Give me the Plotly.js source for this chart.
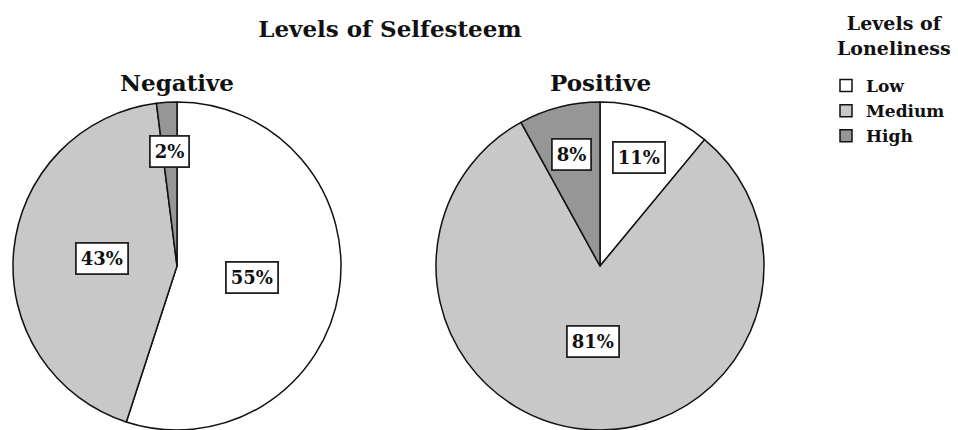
<!DOCTYPE html>
<html>
<head>
<meta charset="utf-8">
<script src="https://cdn.plot.ly/plotly-3.0.1.min.js"></script>
<style>html,body{margin:0;padding:0;background:#fff;overflow:hidden}</style>
</head>
<body>
<div id="chart" style="width:958px;height:430px"></div>
<script>
// ---- data ----
const categories = ['Low', 'Medium', 'High'];
const groups = ['Negative', 'Positive'];
const negativeValues = [55, 43, 2];
const positiveValues = [11, 81, 8];
const chartTitle = 'Levels of Selfesteem';
const legendTitle = 'Levels of<br>Loneliness';

// ---- styles ----
const W = 958, H = 430;
const FONT = 'DejaVu Serif, Liberation Serif, serif';
const sliceColors = ['#ffffff', '#c8c8c8', '#969696'];
const R = 164;                 // pie radius in px
const centers = [[177, 266], [600, 266]]; // pie centres in px
const seriesValues = [negativeValues, positiveValues];

const traces = [];
const annotations = [];
seriesValues.forEach((vals, i) => {
  const [cx, cy] = centers[i];
  const dom = {
    x: [(cx - R) / W, (cx + R) / W],
    y: [Math.max(0, 1 - (cy + R) / H), 1 - (cy - R) / H]
  };
  traces.push({
    type: 'pie',
    labels: categories,
    values: vals,
    sort: false,
    direction: 'clockwise',
    rotation: 0,
    domain: dom,
    textinfo: 'none',
    hoverinfo: 'skip',
    marker: {colors: sliceColors, line: {color: '#111', width: 1.5}},
    showlegend: i === 0
  });
  // group sub-title above each pie
  annotations.push({
    xref: 'paper', yref: 'paper',
    x: cx / W, y: 1 - 82 / H, xanchor: 'center', yanchor: 'middle',
    text: groups[i], showarrow: false,
    font: {family: FONT, size: 23, weight: 'bold', color: '#111'}
  });
  // boxed percentage labels placed at each slice's mid-angle
  const total = vals.reduce((a, b) => a + b, 0);
  let cum = 0;
  vals.forEach(v => {
    const mid = (cum + v / 2) / total * 2 * Math.PI;
    cum += v;
    const f = v / total < 0.2 ? 0.7 : 0.46;
    const px = cx + f * R * Math.sin(mid);
    const py = cy - f * R * Math.cos(mid);
    annotations.push({
      xref: 'paper', yref: 'paper',
      x: px / W, y: 1 - py / H,
      xanchor: 'center', yanchor: 'middle',
      text: Math.round(v / total * 100) + '%',
      showarrow: false,
      font: {family: FONT, size: 18, weight: 'bold', color: '#111'},
      bgcolor: '#ffffff',
      bordercolor: '#222',
      borderwidth: 1.8,
      borderpad: 4
    });
  });
});

// legend title
annotations.push({
  xref: 'paper', yref: 'paper',
  x: 894 / W, y: 1 - 35 / H, xanchor: 'center', yanchor: 'middle',
  text: legendTitle, showarrow: false, align: 'center',
  font: {family: FONT, size: 19, weight: 'bold', color: '#111'}
});

const layout = {
  width: W, height: H,
  margin: {l: 0, r: 0, t: 0, b: 0},
  paper_bgcolor: '#fff',
  title: {
    text: chartTitle,
    x: 390 / W, y: 1 - 29 / H, xanchor: 'center', yanchor: 'middle',
    font: {family: FONT, size: 23, weight: 'bold', color: '#111'}
  },
  showlegend: true,
  legend: {
    x: 826 / W, y: 1 - 68 / H, xanchor: 'left', yanchor: 'top',
    traceorder: 'normal',
    font: {family: FONT, size: 17, weight: 'bold', color: '#111'},
    itemwidth: 30,
    tracegroupgap: 0,
    bgcolor: 'rgba(0,0,0,0)'
  },
  annotations: annotations
};

Plotly.newPlot('chart', traces, layout, {displayModeBar: false, staticPlot: true});
</script>
</body>
</html>
